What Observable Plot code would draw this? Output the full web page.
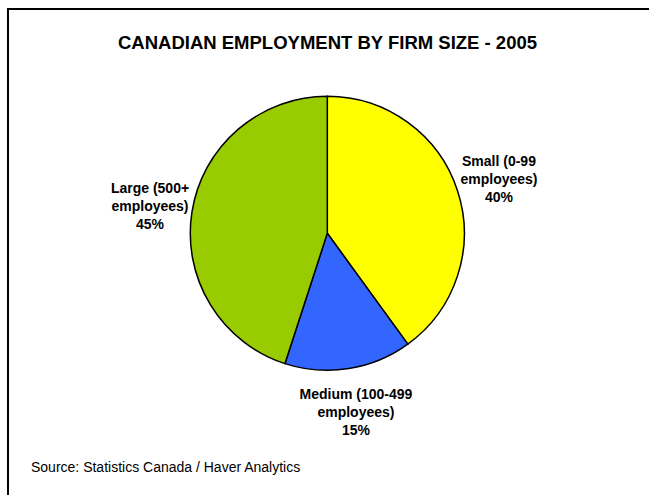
<!DOCTYPE html>
<html>
<head>
<meta charset="utf-8">
<script src="https://cdn.jsdelivr.net/npm/d3@7"></script>
<script src="https://cdn.jsdelivr.net/npm/@observablehq/plot@0.6"></script>
<style>
  html, body { margin: 0; padding: 0; background: #fff; }
  #wrap { position: relative; width: 649px; height: 495px; overflow: hidden; font-family: Arial, "Liberation Sans", sans-serif; }
  #frame { position: absolute; left: 7px; top: 8px; width: 700px; height: 600px; border-top: 2px solid #000; border-left: 2px solid #000; }
  #title { position: absolute; left: 3px; width: 649px; top: 34px; text-align: center; font-weight: bold; font-size: 18.5px; line-height: 18.5px; color: #000; }
  #source { position: absolute; left: 31px; top: 460px; font-size: 14px; line-height: 14px; color: #000; }
  #chart { position: absolute; left: 0; top: 0; }
</style>
</head>
<body>
<div id="wrap">
  <div id="frame"></div>
  <div id="chart"></div>
  <div id="title">CANADIAN EMPLOYMENT BY FIRM SIZE - 2005</div>
  <div id="source">Source: Statistics Canada / Haver Analytics</div>
</div>
<script>
// Data
const categories = ["Small (0-99\nemployees)", "Medium (100-499\nemployees)", "Large (500+\nemployees)"];
const shares = [40, 15, 45];
const colors = ["#FFFF00", "#3366FF", "#99CC00"];

// Layout constants
const W = 649, H = 495;
const cx = 327.3, cy = 233.3, R = 137, labelR = 180;

const pie = d3.pie().sort(null).value(d => d.value).startAngle(0).endAngle(2 * Math.PI);
const rows = categories.map((c, i) => ({ name: c, value: shares[i], color: colors[i] }));
const arcsData = pie(rows);

// label rows placed at the slice's mid angle
const labels = arcsData.map(a => {
  const mid = (a.startAngle + a.endAngle) / 2;
  return {
    text: a.data.name + "\n" + a.data.value + "%",
    x: cx + labelR * Math.sin(mid),
    y: cy - labelR * Math.cos(mid)
  };
});

function pieMark(index, scales) {
  const sx = scales.x, sy = scales.y;
  const px = sx(cx), py = sy(cy);
  const pr = Math.abs(sx(cx + R) - sx(cx));
  const arc = d3.arc().innerRadius(0).outerRadius(pr);
  const g = d3.create("svg:g").attr("transform", `translate(${px},${py})`);
  g.selectAll("path")
    .data(arcsData)
    .join("path")
    .attr("d", arc)
    .attr("fill", d => d.data.color)
    .attr("stroke", "#000")
    .attr("stroke-width", 1.5)
    .attr("stroke-linejoin", "round");
  return g.node();
}

const chart = Plot.plot({
  width: W,
  height: H,
  margin: 0,
  x: { domain: [0, W], range: [0, W], axis: null },
  y: { domain: [0, H], range: [0, H], axis: null },
  style: { background: "transparent", fontFamily: "Arial, 'Liberation Sans', sans-serif" },
  marks: [
    pieMark,
    Plot.text(labels, {
      x: "x",
      y: "y",
      text: "text",
      fontSize: 14,
      fontWeight: "bold",
      lineHeight: 1.28,
      textAnchor: "middle",
      fill: "#000"
    })
  ]
});
document.getElementById("chart").appendChild(chart);
</script>
</body>
</html>
